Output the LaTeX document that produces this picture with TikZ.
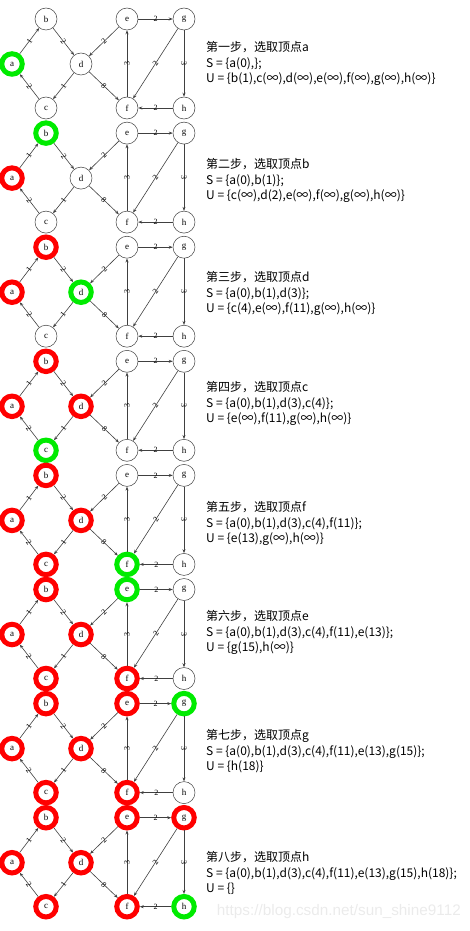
\documentclass[tikz,border=0pt]{standalone}
\usepackage{fontspec}
\setmainfont{Liberation Serif}
\newfontfamily\cjk{Noto Sans CJK SC}
\newfontfamily\wmfont{Liberation Sans}
\usetikzlibrary{arrows.meta}
\definecolor{visited}{RGB}{255,0,0}
\definecolor{picked}{RGB}{0,235,0}

\begin{document}
\begin{tikzpicture}[x=1pt,y=-1pt,
    vtx/.style={circle,draw=black!75,line width=0.5pt,fill=white,minimum size=22pt,inner sep=0pt,font=\fontsize{9}{9}\selectfont},
    done/.style={vtx,draw=visited,line width=5pt,minimum size=20.5pt},
    cur/.style={vtx,draw=picked,line width=5pt,minimum size=20.5pt},
    edge/.style={draw=black!75,line width=0.6pt,-{Stealth[length=4pt,width=3pt]}},
    wt/.style={sloped,inner sep=0pt,font=\fontsize{8}{8}\selectfont},
    info/.style={anchor=north west,align=left,inner sep=0pt,font=\cjk\fontsize{12}{15.5}\selectfont}]
  \useasboundingbox (0,0) rectangle (470,931);

  \foreach \k in {1,...,8} {
    \pgfmathsetmacro\dy{(\k-1)*114.1}
    \foreach \n/\o/\x/\y in {a/1/12/64, b/2/46/19, c/4/46/108, d/3/81/64, e/6/127/19, f/5/127/108, g/7/184/19, h/8/184/108} {
      \ifnum\o<\k \def\sty{done}\else\ifnum\o=\k \def\sty{cur}\else\def\sty{vtx}\fi\fi
      \node[\sty] (\n\k) at (\x,\y+\dy) {\n};
    }
    \foreach \s/\t/\w in {a/b/1, b/d/2, d/c/1, c/a/2, e/d/2, d/f/8, f/e/3, e/g/2, g/f/2, g/h/3, h/f/2}
      \draw[edge] (\s\k) -- node[wt] {\w} (\t\k);
  }

  \foreach \k/\ty/\ttl/\S/\U in {
      1/48/{第一步，选取顶点a}/{\{a(0),\};}/{\{b(1),c(∞),d(∞),e(∞),f(∞),g(∞),h(∞)\}},
      2/165/{第二步，选取顶点b}/{\{a(0),b(1)\};}/{\{c(∞),d(2),e(∞),f(∞),g(∞),h(∞)\}},
      3/278/{第三步，选取顶点d}/{\{a(0),b(1),d(3)\};}/{\{c(4),e(∞),f(11),g(∞),h(∞)\}},
      4/388/{第四步，选取顶点c}/{\{a(0),b(1),d(3),c(4)\};}/{\{e(∞),f(11),g(∞),h(∞)\}},
      5/508/{第五步，选取顶点f}/{\{a(0),b(1),d(3),c(4),f(11)\};}/{\{e(13),g(∞),h(∞)\}},
      6/617/{第六步，选取顶点e}/{\{a(0),b(1),d(3),c(4),f(11),e(13)\};}/{\{g(15),h(∞)\}},
      7/736/{第七步，选取顶点g}/{\{a(0),b(1),d(3),c(4),f(11),e(13),g(15)\};}/{\{h(18)\}},
      8/858/{第八步，选取顶点h}/{\{a(0),b(1),d(3),c(4),f(11),e(13),g(15),h(18)\};}/{\{\}}}
    \node[info] (t\k) at (206,\ty-6.5) {\ttl\\S = \S\\U = \U};

  \node[anchor=east,inner sep=0pt,text=black!8,font=\wmfont\fontsize{15.3}{15.3}\selectfont] (mark) at (461,912) {https://blog.csdn.net/sun\_shine9112};
\end{tikzpicture}
\end{document}
